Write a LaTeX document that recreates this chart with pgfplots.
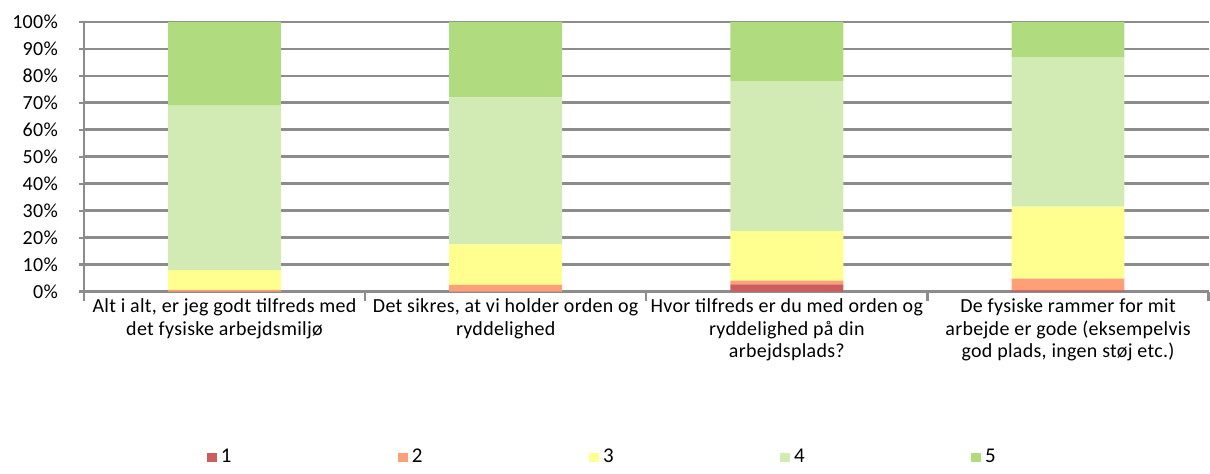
\documentclass[border=0pt]{standalone}
\usepackage{fontspec}
\setmainfont{Carlito}[LetterSpace=1.5]
\usepackage{pgfplots}
\pgfplotsset{compat=1.18}
\definecolor{g1}{HTML}{CD5C5C}
\definecolor{g2}{HTML}{FF9F78}
\definecolor{g3}{HTML}{FFFF8F}
\definecolor{g4}{HTML}{D2EBB5}
\definecolor{g5}{HTML}{B0DC7F}
\definecolor{gridc}{RGB}{140,140,140}
\begin{document}
\begin{tikzpicture}
\begin{axis}[
  scale only axis, width=563pt, height=135pt,
  ybar stacked, bar width=56.5pt,
  xmin=-0.5, xmax=3.5, ymin=0, ymax=100,
  axis x line*=bottom, axis y line*=left,
  axis line style={gridc, line width=1.2pt},
  ymajorgrids, grid style={gridc, line width=1.4pt},
  ytick={0,10,...,100},
  yticklabel={\pgfmathprintnumber[assume math mode=true]{\tick}\%},
  y tick label style={xshift=-7pt},
  xtick={0,1,2,3},
  xticklabels={{Alt i alt, er jeg godt tilfreds med\\det fysiske arbejdsmiljø},
    {Det sikres, at vi holder orden og\\ryddelighed},
    {Hvor tilfreds er du med orden og\\ryddelighed på din\\arbejdsplads?},
    {De fysiske rammer for mit\\arbejde er gode (eksempelvis\\god plads, ingen støj etc.)}},
  x tick label style={align=center, yshift=2.5pt},
  minor xtick={-0.5,0.5,1.5,2.5,3.5},
  tick align=outside, tick style={gridc, line width=1.2pt},
  major x tick style={draw=none},
  minor tick length=4.5pt, major tick length=2.5pt,
  tick label style={font=\fontsize{10}{11.3}\selectfont},
  legend columns=5,
  legend style={draw=none, at={(0.462,-0.615)}, anchor=center,
    font=\fontsize{10.5}{11}\selectfont,
    /tikz/every even column/.append style={column sep=81.5pt}},
  legend image code/.code={\fill[#1] (0pt,-2.4pt) rectangle (4.8pt,2.4pt);},
]
\addplot[fill=g1, draw=none] coordinates {(0,0) (1,0) (2,2.7) (3,0.5)};
\addplot[fill=g2, draw=none] coordinates {(0,0.7) (1,2.5) (2,1.4) (3,4.3)};
\addplot[fill=g3, draw=none] coordinates {(0,7.3) (1,15) (2,18.4) (3,26.7)};
\addplot[fill=g4, draw=none] coordinates {(0,61) (1,54.5) (2,55.6) (3,55.5)};
\addplot[fill=g5, draw=none] coordinates {(0,31) (1,28) (2,21.9) (3,13)};
\legend{1,2,3,4,5}
\end{axis}
\path[use as bounding box] ([xshift=-42pt,yshift=-88.5pt]current axis.south west)
  rectangle ([yshift=11pt]current axis.north east);
\end{tikzpicture}
\end{document}
